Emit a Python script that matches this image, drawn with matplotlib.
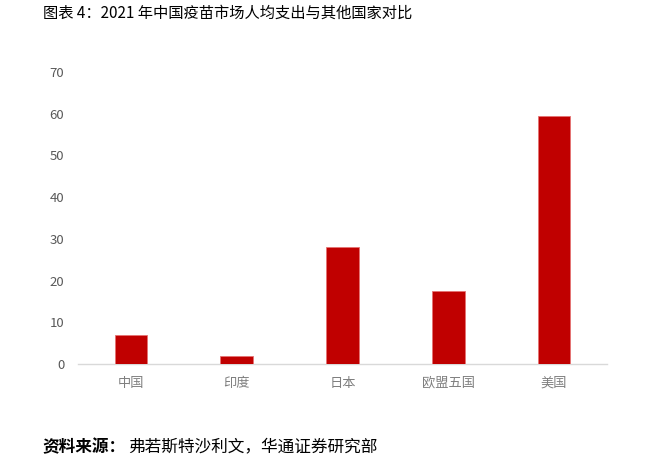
import matplotlib
matplotlib.use('Agg')
from matplotlib import pyplot as plt

plt.rcParams['font.family'] = ['Noto Sans CJK SC', 'DejaVu Sans']

categories = ['中国', '印度', '日本', '欧盟五国', '美国']
values = [7.0, 1.9, 28.1, 17.4, 59.5]
yticks = [0, 10, 20, 30, 40, 50, 60, 70]

fig = plt.figure(figsize=(6.47, 4.63), dpi=100)
ax = fig.add_axes([0.1206, 0.2138, 0.8174, 0.6307])

x = range(len(categories))
ax.bar(x, values, width=0.31, color='#C00000', edgecolor='#E57373', linewidth=0.6, zorder=3)

ax.set_xlim(-0.5, len(categories) - 0.5)
ax.set_ylim(0, 70)
ax.set_yticks(yticks)
ax.set_xticks(list(x))
ax.set_xticklabels(categories)

for s in ['top', 'right', 'left']:
    ax.spines[s].set_visible(False)
ax.spines['bottom'].set_color('#D9D9D9')
ax.spines['bottom'].set_linewidth(1)

ax.tick_params(axis='y', length=0, pad=10, labelsize=9.5, labelcolor='#595959')
ax.tick_params(axis='x', length=0, pad=9, labelsize=9.5, labelcolor='#7F7F7F')

fig.text(0.066, 0.99, '图表 4：2021 年中国疫苗市场人均支出与其他国家对比',
         fontsize=11, color='black', va='top', ha='left')
fig.text(0.066, 0.035, '资料来源：', fontsize=12, fontweight='bold', va='center', ha='left')
fig.text(0.198, 0.035, '弗若斯特沙利文，华通证券研究部', fontsize=12, va='center', ha='left')

fig.savefig('out.png', dpi=100)
